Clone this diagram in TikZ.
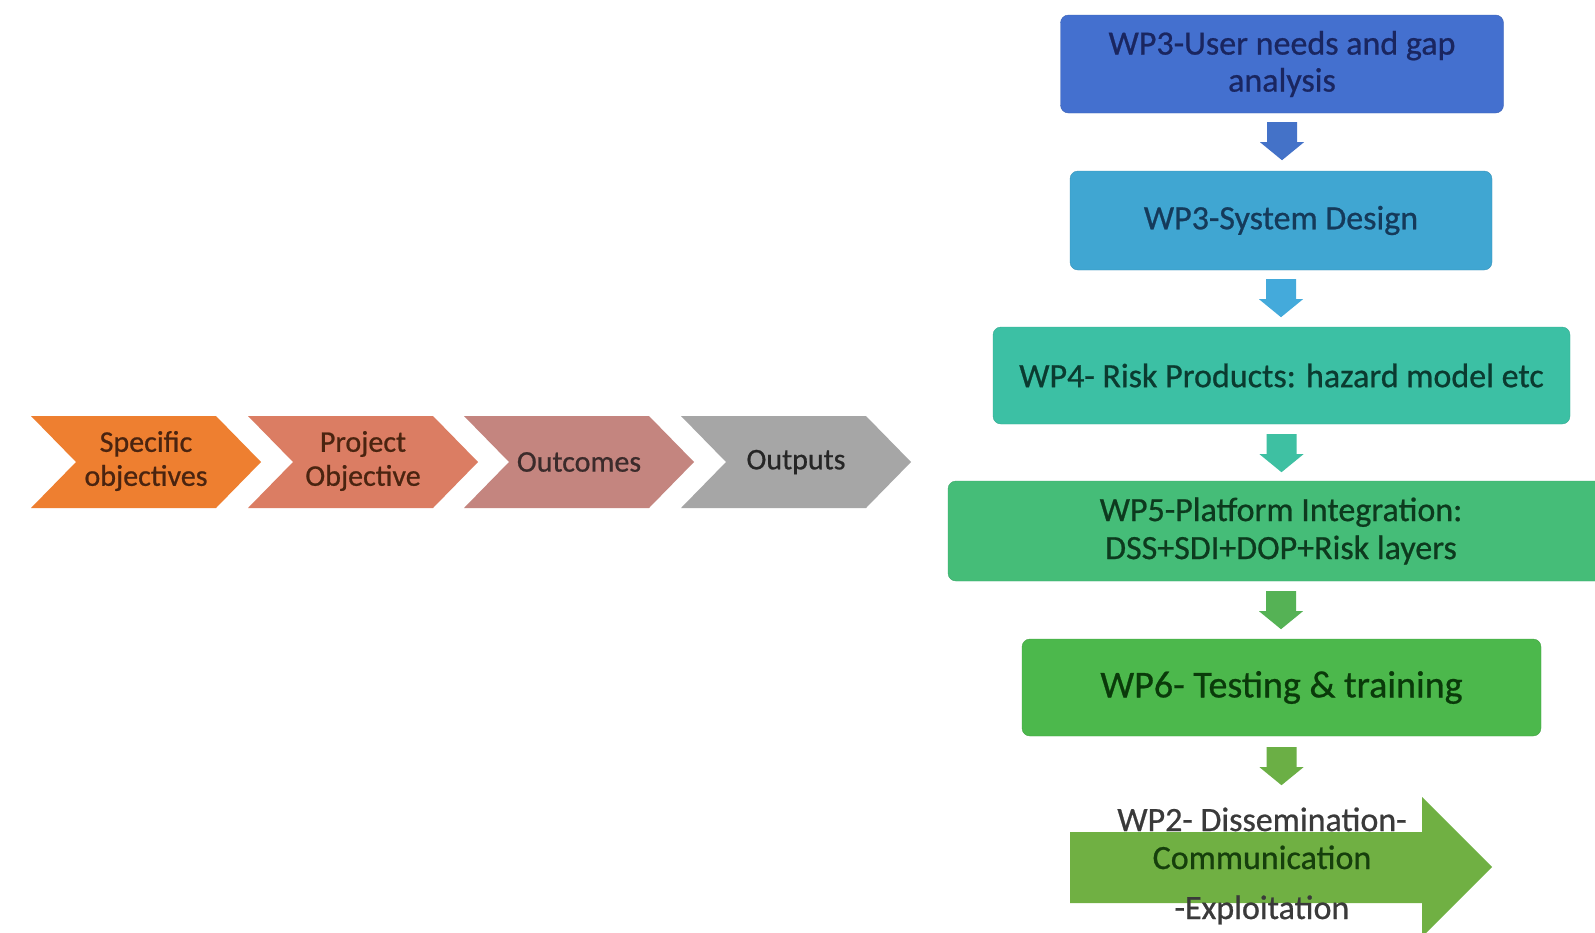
\documentclass[tikz,border=0pt]{standalone}
\usepackage{fontspec}
\setmainfont{Carlito}
\newfontfamily\heavy{Carlito}[FakeBold=0.7]
\usetikzlibrary{calc}
\definecolor{chA}{HTML}{EE7F30}
\definecolor{chB}{HTML}{DB7D63}
\definecolor{chC}{HTML}{C4857F}
\definecolor{chD}{HTML}{A6A6A6}
\definecolor{chtA}{HTML}{4A2410}
\definecolor{chtC}{HTML}{3B2B2B}
\definecolor{chtD}{HTML}{262626}
\definecolor{bA}{HTML}{4470CF}
\definecolor{bB}{HTML}{40A6D2}
\definecolor{bC}{HTML}{3CC0A4}
\definecolor{bD}{HTML}{45BD78}
\definecolor{bE}{HTML}{4CB84C}
\definecolor{bF}{HTML}{70B043}
\definecolor{tA}{HTML}{1A2660}
\definecolor{tB}{HTML}{153A5A}
\definecolor{tC}{HTML}{0B3B30}
\definecolor{tD}{HTML}{0D3A1E}
\definecolor{tE}{HTML}{0A3A0A}
\definecolor{tF}{HTML}{3A3A3A}
\definecolor{tG}{HTML}{163F0C}
\definecolor{arA}{HTML}{4472C8}
\definecolor{arB}{HTML}{44AADB}
\definecolor{arC}{HTML}{3EC0A2}
\definecolor{arD}{HTML}{55B255}
\definecolor{arE}{HTML}{6BAF45}
\begin{document}
\begin{tikzpicture}[x=1pt,y=-1pt,
  wpbox/.style={rectangle, rounded corners=8pt, inner sep=0pt, align=center,
    font=\heavy\fontsize{34}{37}\selectfont},
  chevtext/.style={align=center, inner sep=0pt, font=\heavy\fontsize{30}{34}\selectfont},
  wptext/.style={inner sep=0pt, anchor=base, font=\heavy\fontsize{34}{38}\selectfont},
]
\useasboundingbox (0,0) rectangle (1595,932);
\clip (0,0) rectangle (1595,932);
\fill[white] (0,0) rectangle (1595,932);

% chevrons
\fill[chA] (31,416) -- (216,416) -- (261,462) -- (216,508) -- (31,508) -- (76,462) -- cycle;
\fill[chB] (248,416) -- (433,416) -- (478,462) -- (433,508) -- (248,508) -- (293,462) -- cycle;
\fill[chC] (464,416) -- (649,416) -- (694,462) -- (649,508) -- (464,508) -- (509,462) -- cycle;
\fill[chD] (681,416) -- (866,416) -- (911,462) -- (866,508) -- (681,508) -- (726,462) -- cycle;
\node[chevtext, text=chtA] (c1) at (146,461) {Specific\\objectives};
\node[chevtext, text=chtA] (c2) at (363,461) {Project\\Objective};
\node[chevtext, text=chtC] (c3) at (579,462) {Outcomes};
\node[chevtext, text=chtD] (c4) at (796,462) {Outputs};

% work package boxes
\node[wpbox, fill=bA, draw=bA!88!black, text=tA, minimum width=443pt, minimum height=98pt]
  (b1) at (1282,64) {WP3-User needs and gap\\analysis};
\node[wpbox, fill=bB, draw=bB!88!black, text=tB, minimum width=422pt, minimum height=99pt]
  (b2) at (1281,220.5) {WP3-System Design};
\node[wpbox, fill=bC, draw=bC!88!black, text=tC, minimum width=577pt, minimum height=97pt]
  (b3) at (1281.5,375.5) {WP4- Risk Products: hazard model etc};
\node[wpbox, fill=bD, draw=bD!88!black, text=tD, minimum width=666pt, minimum height=100pt,
  font=\heavy\fontsize{34}{38}\selectfont]
  (b4) at (1281,531) {WP5-Platform Integration:\\DSS+SDI+DOP+Risk layers};
\node[wpbox, fill=bE, draw=bE!88!black, text=tE, minimum width=519pt, minimum height=97pt,
  font=\heavy\fontsize{38}{42}\selectfont]
  (b5) at (1281.5,687.5) {WP6- Testing \& training};

% down arrows
\fill[arA] ($(b1.south)+(0,9)$) ++(-15,0) -- ++(30,0) -- ++(0,20) -- ++(7,0) -- ++(-22,18) -- ++(-22,-18) -- ++(7,0) -- cycle;
\fill[arB] ($(b2.south)+(0,9)$) ++(-15,0) -- ++(30,0) -- ++(0,20) -- ++(7,0) -- ++(-22,18) -- ++(-22,-18) -- ++(7,0) -- cycle;
\fill[arC] ($(b3.south)+(0,10)$) ++(-15,0) -- ++(30,0) -- ++(0,20) -- ++(7,0) -- ++(-22,18) -- ++(-22,-18) -- ++(7,0) -- cycle;
\fill[arD] ($(b4.south)+(0,10)$) ++(-15,0) -- ++(30,0) -- ++(0,20) -- ++(7,0) -- ++(-22,18) -- ++(-22,-18) -- ++(7,0) -- cycle;
\fill[arE] ($(b5.south)+(0,11)$) ++(-15,0) -- ++(30,0) -- ++(0,20) -- ++(7,0) -- ++(-22,18) -- ++(-22,-18) -- ++(7,0) -- cycle;

% WP2 block arrow
\fill[bF] (1070,832) -- (1422,832) -- (1422,797) -- (1492,867) -- (1422,937) -- (1422,903) -- (1070,903) -- cycle;
\node[wptext, text=tF] (w2a) at (1262,831) {WP2- Dissemination-};
\node[wptext, text=tG] (w2b) at (1262,869) {Communication};
\node[wptext, text=tF] (w2c) at (1262,919) {-Exploitation};
\end{tikzpicture}
\end{document}
